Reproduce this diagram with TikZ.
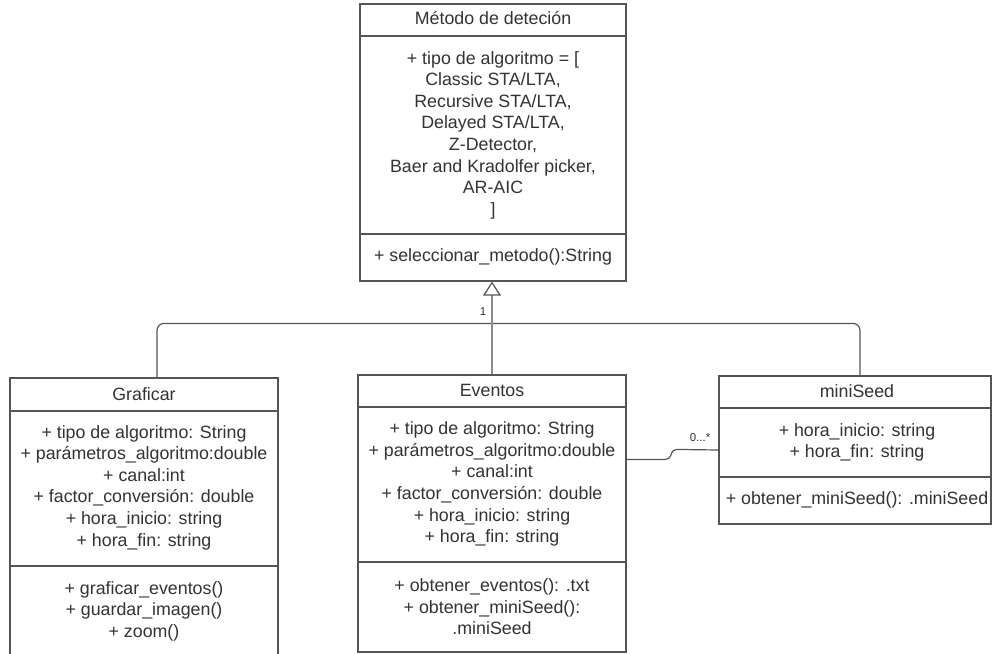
\documentclass[tikz,border=0pt]{standalone}
\usepackage{fontspec}
\setmainfont{Liberation Sans}
\usetikzlibrary{arrows.meta,calc}
\definecolor{lineC}{RGB}{85,85,85}
\definecolor{txtC}{RGB}{51,51,51}
\definecolor{genC}{RGB}{140,140,140}
\tikzset{
 box/.style={draw=lineC, line width=1.2pt, rectangle, inner sep=0pt, fill=white},
 txt/.style={text=txtC, align=center, font=\fontsize{17.8}{21.6}\selectfont, inner sep=0pt},
 lbl/.style={text=txtC, font=\fontsize{11.5}{13}\selectfont, inner sep=0pt},
 div/.style={draw=lineC, line width=1.2pt},
 conn/.style={draw=lineC, line width=1.2pt},
 gen/.style={draw=genC, line width=1.8pt, -{Triangle[open,width=18pt,length=14pt,line width=1.2pt,color=lineC,fill=white]}}
}
\begin{document}
\begin{tikzpicture}[x=1pt,y=-1pt]
\clip (0,0) rectangle (992,653);
% Metodo de detecion
\node[box, minimum width=266pt, minimum height=277pt] (metodo) at (493,142.5) {};
\draw[div] (metodo.west |- 0,36) -- (metodo.east |- 0,36);
\draw[div] (metodo.west |- 0,234) -- (metodo.east |- 0,234);
\node[txt] (metodoT) at (493,18.5) {Método de deteción};
\node[txt] (metodoA) at (493,135) {+ tipo de algoritmo = [\\Classic STA/LTA,\\Recursive STA/LTA,\\Delayed STA/LTA,\\Z-Detector,\\Baer and Kradolfer picker,\\AR-AIC\\]};
\node[txt] (metodoM) at (493,257) {+ seleccionar\_metodo():String};
% Graficar
\node[box, minimum width=268pt, minimum height=284pt] (graf) at (144,520) {};
\draw[div] (graf.west |- 0,411) -- (graf.east |- 0,411);
\draw[div] (graf.west |- 0,566) -- (graf.east |- 0,566);
\node[txt] (grafT) at (144,394) {Graficar};
\node[txt] (grafA) at (144,487.5) {+ tipo de algoritmo: String\\+ parámetros\_algoritmo:double\\+ canal:int\\+ factor\_conversión: double\\+ hora\_inicio: string\\+ hora\_fin: string};
\node[txt] (grafM) at (144,611) {+ graficar\_eventos()\\+ guardar\_imagen()\\+ zoom()};
% Eventos
\node[box, minimum width=268pt, minimum height=277pt] (even) at (492,513.5) {};
\draw[div] (even.west |- 0,407) -- (even.east |- 0,407);
\draw[div] (even.west |- 0,562) -- (even.east |- 0,562);
\node[txt] (evenT) at (492,390) {Eventos};
\node[txt] (evenA) at (492,484) {+ tipo de algoritmo: String\\+ parámetros\_algoritmo:double\\+ canal:int\\+ factor\_conversión: double\\+ hora\_inicio: string\\+ hora\_fin: string};
\node[txt] (evenM) at (492,607) {+ obtener\_eventos(): .txt\\+ obtener\_miniSeed():\\.miniSeed};
% miniSeed
\node[box, minimum width=272pt, minimum height=148pt] (mini) at (855,450) {};
\draw[div] (mini.west |- 0,408) -- (mini.east |- 0,408);
\draw[div] (mini.west |- 0,477) -- (mini.east |- 0,477);
\node[txt] (miniT) at (857,391) {miniSeed};
\node[txt] (miniA) at (857,442.5) {+ hora\_inicio: string\\+ hora\_fin: string};
\node[txt] (miniM) at (857,500) {+ obtener\_miniSeed(): .miniSeed};
% connectors
\draw[conn, rounded corners=7pt] ($(graf.north)+(13,0)$) |- ($(even.north)+(0,-51)$) -| ($(mini.north)+(5,0)$);
\draw[gen] (even.north) -- (even.north |- metodo.south);
\node[lbl] (one) at (483,312) {1};
\draw[conn, rounded corners=4pt] ($(even.north east)+(0,85)$) -- ++(43,0) -- ++(3,-10) -- (mini.west);
\node[lbl] (mult) at (700,438) {0...*};
\end{tikzpicture}
\end{document}
